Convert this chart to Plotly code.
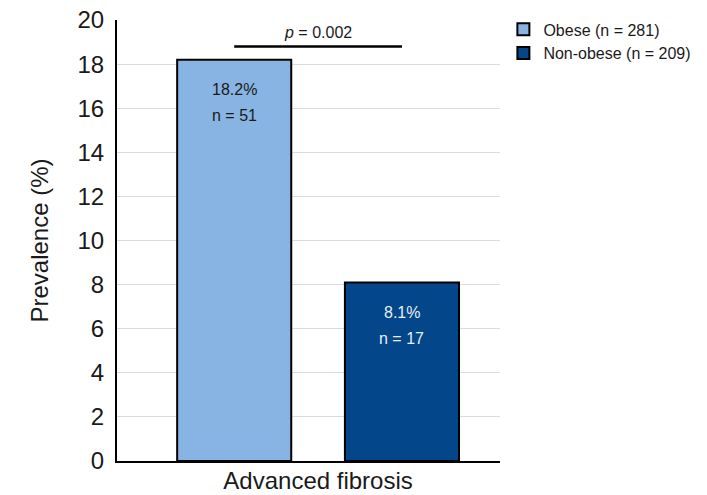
import plotly.graph_objects as go

# Prevalence of advanced fibrosis by obesity status
category = ["Advanced fibrosis"]
groups = ["Obese (n = 281)", "Non-obese (n = 209)"]
prevalence = [18.2, 8.1]
counts = [51, 17]
colors = ["#88B4E3", "#03468A"]
label_colors = ["#1a1a1a", "#e8eef6"]
p_value = "0.002"
bracket_y = 18.8

bargap = 0.124
bargroupgap = 0.32
FONT = "Liberation Sans, Arial"

fig = go.Figure()
for name, val, col in zip(groups, prevalence, colors):
    fig.add_trace(go.Bar(
        x=category, y=[val], name=name,
        marker=dict(color=col, line=dict(color="black", width=2)),
        hoverinfo="skip",
    ))

# centres of the two grouped bars on the category axis
half = (1 - bargap) / 4
centres = [-half, half]

for cx, val, n, tc in zip(centres, prevalence, counts, label_colors):
    fig.add_annotation(x=cx, y=val, xref="x", yref="y", text=f"{val}%",
                       showarrow=False, yshift=-30,
                       font=dict(family=FONT, size=16, color=tc))
    fig.add_annotation(x=cx, y=val, xref="x", yref="y", text=f"n = {n}",
                       showarrow=False, yshift=-56,
                       font=dict(family=FONT, size=16, color=tc))

# significance bracket
fig.add_shape(type="line", xref="x", yref="y", x0=centres[0], x1=centres[1],
              y0=bracket_y, y1=bracket_y, line=dict(color="black", width=2.5))
fig.add_annotation(x=0, y=bracket_y, xref="x", yref="y",
                   text=f"<i>p</i> = {p_value}", showarrow=False, yshift=14,
                   font=dict(family=FONT, size=16, color="#1a1a1a"))

fig.update_layout(
    width=707, height=495,
    margin=dict(l=117, r=207, t=20, b=34),
    paper_bgcolor="white", plot_bgcolor="white",
    barmode="group", bargap=bargap, bargroupgap=bargroupgap,
    font=dict(family=FONT, color="black"),
    legend=dict(xref="container", yref="container", x=0.712, y=0.975,
                xanchor="left", yanchor="top",
                font=dict(size=16, color="#1a1a1a"), tracegroupgap=0,
                itemwidth=30),
    showlegend=True,
)
fig.update_xaxes(
    range=[-0.525, 0.475], showline=True, linecolor="black", linewidth=2,
    tickfont=dict(size=24, color="#1a1a1a"), showgrid=False,
    ticks="", ticklabelstandoff=-3, automargin=False,
)
fig.update_yaxes(
    range=[0, 20], dtick=2, showline=True, linecolor="black", linewidth=2,
    showgrid=True, gridcolor="#dcdcdc", gridwidth=1, zeroline=False,
    tickfont=dict(size=24, color="#1a1a1a"),
    ticks="outside", ticklen=6, tickcolor="rgba(0,0,0,0)", automargin=False,
    title=dict(text="Prevalence (%)", font=dict(size=24, color="#1a1a1a"), standoff=22),
)

fig.write_html("out.html")
